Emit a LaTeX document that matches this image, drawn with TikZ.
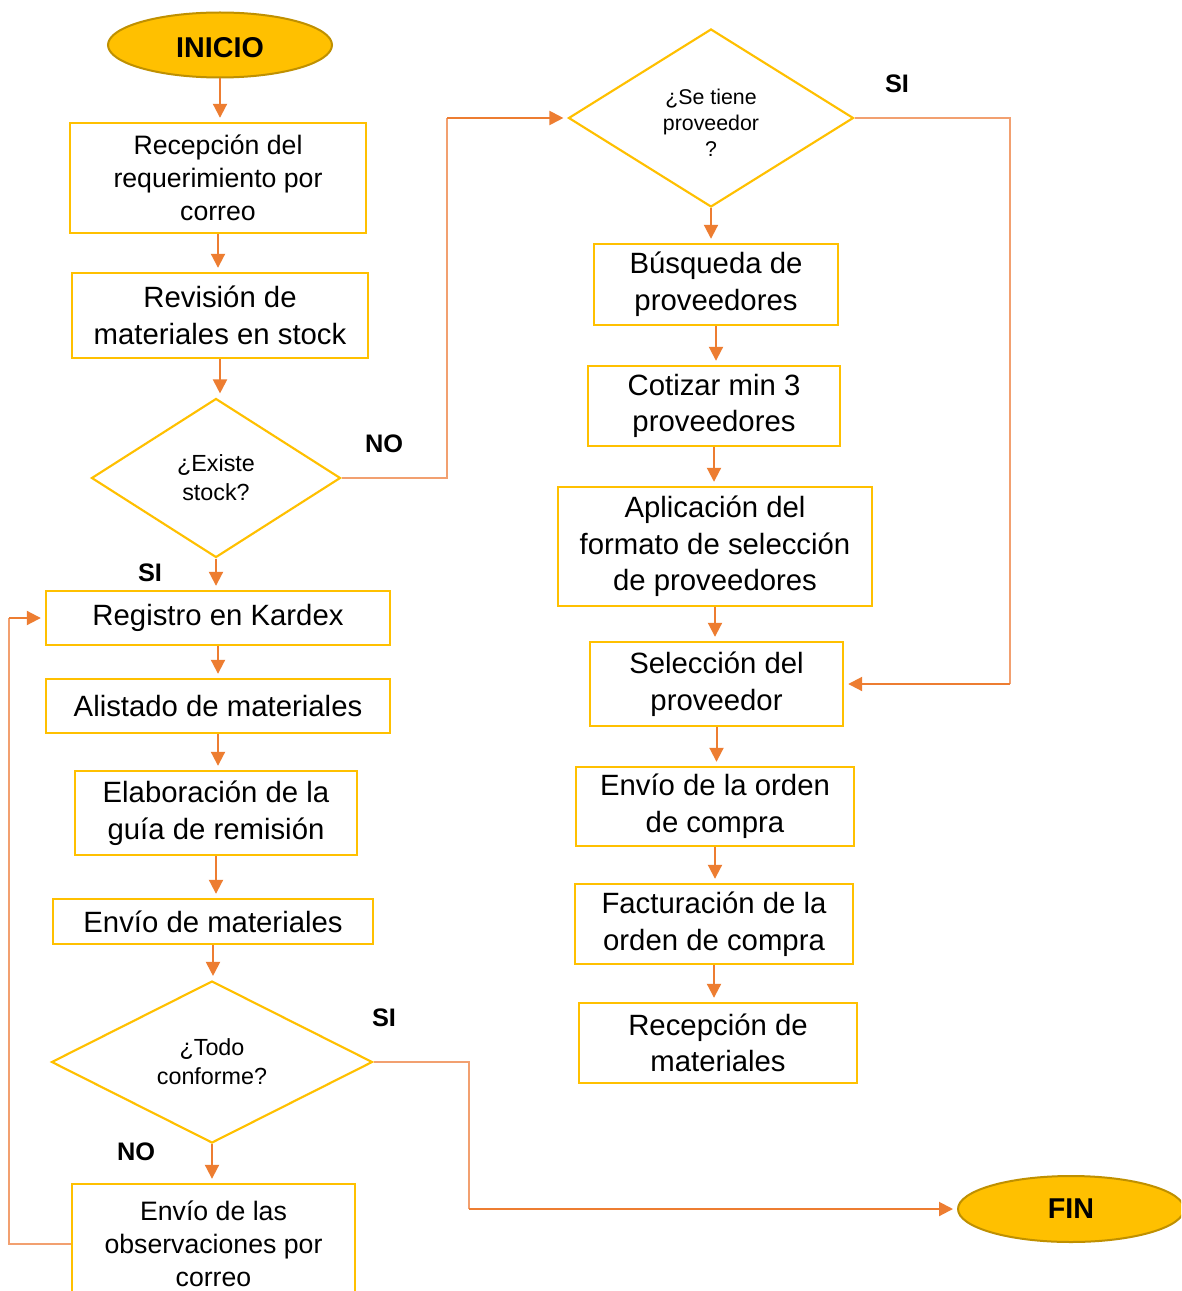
\documentclass[tikz,border=0pt]{standalone}
\usepackage{fontspec}
\setmainfont{Liberation Sans}
\usetikzlibrary{shapes.geometric,arrows.meta}
\definecolor{gold}{HTML}{FFC000}
\definecolor{darkgold}{HTML}{BF9000}
\definecolor{arrorange}{HTML}{ED7D31}
\definecolor{routeorange}{HTML}{F2A070}
\tikzset{
  procbox/.style={draw=gold, line width=1.8pt, fill=white, rectangle, inner sep=0pt, align=center,
    font=\fontsize{22}{27.4}\selectfont},
  smallbox/.style={procbox, font=\fontsize{20}{24.75}\selectfont},
  decision/.style={draw=gold, line width=1.6pt, fill=white, diamond, inner sep=0pt, align=center,
    font=\fontsize{17.5}{21.75}\selectfont},
  terminal/.style={draw=darkgold, line width=1.5pt, fill=gold, ellipse, inner sep=0pt,
    font=\fontsize{21.5}{24}\selectfont\bfseries},
  flowarrow/.style={draw=arrorange, line width=1.5pt, -{Triangle[length=10.5pt,width=10.5pt]}, shorten >=3pt},
  routeline/.style={draw=routeorange, line width=1pt},
  branchlabel/.style={font=\fontsize{19}{22}\selectfont\bfseries, inner sep=0pt}
}
\begin{document}
\begin{tikzpicture}[x=0.75pt,y=-0.75pt]
\useasboundingbox[fill=white] (0,0) rectangle (1181,1291);
\begin{scope}
\clip (0,0) rectangle (1181,1291);
% left column
\node[terminal, minimum width=168pt, minimum height=48.75pt] (inicio) at (220,45) {\raisebox{-2pt}[\height][\depth]{INICIO}};
\node[smallbox, minimum width=222pt, minimum height=82.5pt] (recep) at (218,178) {Recepción del\\requerimiento por\\correo};
\node[procbox, minimum width=222pt, minimum height=63.75pt] (revis) at (220,315.5) {Revisión de\\materiales en stock};
\node[decision, minimum width=186.75pt, minimum height=119.25pt] (existe) at (216,478) {¿Existe\\stock?};
\node[procbox, minimum width=258pt, minimum height=40.5pt] (kardex) at (218,618) {Registro en Kardex};
\node[procbox, minimum width=258pt, minimum height=40.5pt] (alist) at (218,706) {Alistado de materiales};
\node[procbox, minimum width=211.5pt, minimum height=63pt] (elab) at (216,813) {Elaboración de la\\guía de remisión};
\node[procbox, minimum width=240pt, minimum height=33.75pt] (envmat) at (213,921.5) {Envío de materiales};
\node[decision, minimum width=240.75pt, minimum height=121.5pt] (todo) at (212,1062) {¿Todo\\conforme?};
\node[smallbox, minimum width=212.25pt, minimum height=90pt] (obs) at (213.5,1244) {Envío de las\\observaciones por\\correo};
% right column
\node[decision, minimum width=213.75pt, minimum height=133.5pt, font=\fontsize{16}{19.5}\selectfont] (tiene) at (711,118)
  {\raisebox{-5.5pt}[\height][\depth]{\begin{tabular}{@{}c@{}}¿Se tiene\\proveedor\\?\end{tabular}}};
\node[procbox, minimum width=183pt, minimum height=60.75pt] (busq) at (716,284.5) {Búsqueda de\\proveedores};
\node[procbox, minimum width=189pt, minimum height=60pt] (cotiz) at (714,406) {Cotizar min 3\\proveedores};
\node[procbox, minimum width=235.5pt, minimum height=89.25pt] (aplic) at (715,546.5) {Aplicación del\\formato de selección\\de proveedores};
\node[procbox, minimum width=189.75pt, minimum height=63pt] (selec) at (716.5,684) {Selección del\\proveedor};
\node[procbox, minimum width=208.5pt, minimum height=59.25pt] (orden) at (715,806.5) {Envío de la orden\\de compra};
\node[procbox, minimum width=208.5pt, minimum height=60pt] (factu) at (714,924) {Facturación de la\\orden de compra};
\node[procbox, minimum width=208.5pt, minimum height=60pt] (recmat) at (718,1043) {Recepción de\\materiales};
\node[terminal, minimum width=169.5pt, minimum height=49.5pt] (fin) at (1071,1209) {FIN};
% labels
\node[branchlabel] (lno1) at (384,444) {NO};
\node[branchlabel] (lsi1) at (150,573) {SI};
\node[branchlabel] (lsi2) at (897,84) {SI};
\node[branchlabel] (lsi3) at (384,1018) {SI};
\node[branchlabel] (lno2) at (136,1152) {NO};
% straight arrows
\foreach \a/\b in {inicio/recep, recep/revis, revis/existe, existe/kardex, kardex/alist, alist/elab, elab/envmat, envmat/todo, todo/obs,
  tiene/busq, busq/cotiz, cotiz/aplic, aplic/selec, selec/orden, orden/factu, factu/recmat}
  \draw[flowarrow] (\a.south) -- (\a.south |- \b.north);
% NO branch from Existe stock
\coordinate (c1) at (447,118);
\draw[routeline] (existe.east) -| (c1);
\draw[flowarrow] (c1) -- (tiene.west);
% SI branch from Se tiene proveedor
\coordinate (c2) at (1010,118);
\coordinate (c3) at (1010,684);
\draw[routeline] (tiene.east) -- (c2) -- (c3);
\draw[flowarrow] (c3) -- (selec.east);
% SI branch from Todo conforme
\coordinate (c4) at (469,1209);
\draw[routeline] (todo.east) -| (c4);
\draw[flowarrow] (c4) -- (fin.west);
% loop back from observaciones
\coordinate (c5) at (9,1244);
\coordinate (c6) at (9,618);
\draw[routeline] (obs.west) -- (c5) -- (c6);
\draw[flowarrow] (c6) -- (kardex.west);
\end{scope}
\end{tikzpicture}
\end{document}
